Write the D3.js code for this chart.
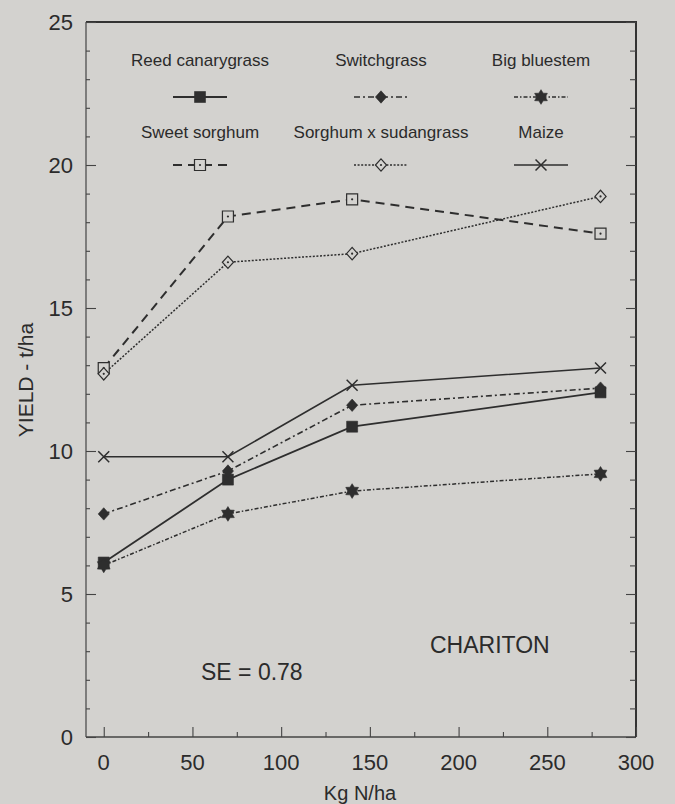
<!DOCTYPE html>
<html>
<head>
<meta charset="utf-8">
<script src="https://cdn.jsdelivr.net/npm/d3@7/dist/d3.min.js"></script>
<style>
  html, body { margin: 0; padding: 0; background: #d3d2cf; }
  svg { display: block; }
  text { font-family: "Liberation Sans", Arial, Helvetica, sans-serif; fill: #2b2b2b; }
</style>
</head>
<body>
<script>
// Nitrogen rates (kg N/ha) at which yield was measured
const nRates = [0, 70, 140, 280];

// Dry-matter yield (t/ha) per crop
const reedCanarygrass = [6.1, 9.0, 10.85, 12.05];
const switchgrass     = [7.8, 9.3, 11.6, 12.2];
const bigBluestem     = [6.0, 7.8, 8.6, 9.2];
const sweetSorghum    = [12.9, 18.2, 18.8, 17.6];
const sorghumSudan    = [12.7, 16.6, 16.9, 18.9];
const maize           = [9.8, 9.8, 12.3, 12.9];

const cropNames = ["Reed canarygrass", "Switchgrass", "Big bluestem",
                   "Sweet sorghum", "Sorghum x sudangrass", "Maize"];

const xTickValues = [0, 50, 100, 150, 200, 250, 300];
const yTickValues = [0, 5, 10, 15, 20, 25];

const W = 675, H = 804;
const plotL = 86, plotR = 636, plotT = 22, plotB = 737;

const x = d3.scaleLinear().domain([-10, 300]).range([plotL, plotR]);
const y = d3.scaleLinear().domain([0, 25]).range([plotB, plotT]);

const ink = "#2e2e2e";
const paper = "#d3d2cf";

// six-pointed star symbol
const symbolHexStar = {
  draw(ctx, size) {
    const R = Math.sqrt(size) * 0.6, r = R * 0.6;
    for (let i = 0; i < 12; i++) {
      const a = -Math.PI / 2 + i * Math.PI / 6;
      const rr = i % 2 === 0 ? R : r;
      if (i === 0) ctx.moveTo(rr * Math.cos(a), rr * Math.sin(a));
      else ctx.lineTo(rr * Math.cos(a), rr * Math.sin(a));
    }
    ctx.closePath();
  }
};

// squat diamond, nearly as wide as it is tall
const symbolWideDiamond = {
  draw(ctx, size) {
    const h = Math.sqrt(size) * 0.62, w = h * 0.9;
    ctx.moveTo(0, -h);
    ctx.lineTo(w, 0);
    ctx.lineTo(0, h);
    ctx.lineTo(-w, 0);
    ctx.closePath();
  }
};

const crops = [
  { name: cropNames[0], values: reedCanarygrass, symbol: d3.symbolSquare, size: 121, fill: ink, dash: null, width: 1.8 },
  { name: cropNames[1], values: switchgrass, symbol: symbolWideDiamond, size: 100, fill: ink, dash: "6,3,2,3", width: 1.6 },
  { name: cropNames[2], values: bigBluestem, symbol: symbolHexStar, size: 150, fill: ink, dash: "4,2,1.5,2", width: 1.5 },
  { name: cropNames[3], values: sweetSorghum, symbol: d3.symbolSquare, size: 121, fill: "none", dot: true, dash: "9,6", width: 2 },
  { name: cropNames[4], values: sorghumSudan, symbol: symbolWideDiamond, size: 100, fill: "none", dot: true, dash: "2,1.6", width: 1.5 },
  { name: cropNames[5], values: maize, symbol: d3.symbolX, size: 80, fill: "none", dash: null, width: 1.6 }
];

const svg = d3.select("body").append("svg").attr("width", W).attr("height", H);

svg.append("rect").attr("width", W).attr("height", H).attr("fill", paper);

// frame
svg.append("line").attr("x1", plotL).attr("x2", plotL).attr("y1", plotT).attr("y2", plotB)
  .attr("stroke", "#444").attr("stroke-width", 1.2);
svg.append("line").attr("x1", plotL).attr("x2", plotR).attr("y1", plotB).attr("y2", plotB)
  .attr("stroke", "#444").attr("stroke-width", 1.4);
svg.append("line").attr("x1", plotL).attr("x2", plotR + 1).attr("y1", plotT).attr("y2", plotT)
  .attr("stroke", "#333").attr("stroke-width", 1.8);
svg.append("line").attr("x1", plotR).attr("x2", plotR).attr("y1", plotT).attr("y2", plotB)
  .attr("stroke", "#333").attr("stroke-width", 2);

// axes: ticks point into the plot
const yMinor = d3.range(0, 26, 1).filter(v => v % 5 !== 0);
const xMinor = d3.range(25, 300, 50);

const yLeft = svg.append("g").attr("transform", `translate(${plotL},0)`)
  .call(d3.axisRight(y).tickValues(yTickValues).tickSize(10).tickFormat(""));
const yLeftMinor = svg.append("g").attr("transform", `translate(${plotL},0)`)
  .call(d3.axisRight(y).tickValues(yMinor).tickSize(4).tickFormat(""));
const yRight = svg.append("g").attr("transform", `translate(${plotR},0)`)
  .call(d3.axisLeft(y).tickValues(yTickValues).tickSize(10).tickFormat(""));
const yRightMinor = svg.append("g").attr("transform", `translate(${plotR},0)`)
  .call(d3.axisLeft(y).tickValues(yMinor).tickSize(6).tickFormat(""));
const xBottom = svg.append("g").attr("transform", `translate(0,${plotB})`)
  .call(d3.axisTop(x).tickValues(xTickValues).tickSize(10).tickFormat(""));
const xBottomMinor = svg.append("g").attr("transform", `translate(0,${plotB})`)
  .call(d3.axisTop(x).tickValues(xMinor).tickSize(5).tickFormat(""));

[yLeft, yLeftMinor, yRight, yRightMinor, xBottom, xBottomMinor].forEach(g => {
  g.select(".domain").remove();
  g.selectAll(".tick line").attr("stroke", "#444").attr("stroke-width", 1.1);
});

// tick labels
svg.append("g").selectAll("text").data(yTickValues).join("text")
  .attr("x", 73).attr("y", d => y(d)).attr("dy", "0.36em")
  .attr("text-anchor", "end").attr("font-size", 22)
  .text(d => d3.format("d")(d));

svg.append("g").selectAll("text").data(xTickValues).join("text")
  .attr("x", d => x(d)).attr("y", 770)
  .attr("text-anchor", "middle").attr("font-size", 22)
  .text(d => d3.format("d")(d));

// axis titles
svg.append("text").attr("x", 360).attr("y", 800).attr("text-anchor", "middle")
  .attr("font-size", 20).text("Kg N/ha");
svg.append("text").attr("transform", "translate(33,380) rotate(-90)")
  .attr("text-anchor", "middle").attr("font-size", 21).text("YIELD - t/ha");

// series
const line = d3.line().x((d, i) => x(nRates[i])).y(d => y(d));

const seriesG = svg.append("g");
crops.forEach(c => {
  seriesG.append("path").datum(c.values).attr("d", line)
    .attr("fill", "none").attr("stroke", ink).attr("stroke-width", c.width)
    .attr("stroke-dasharray", c.dash);
});

function drawMarker(g, c, cx, cy) {
  const p = g.append("path")
    .attr("transform", `translate(${cx},${cy})`)
    .attr("d", d3.symbol(c.symbol, c.size)());
  if (c.fill === "none") {
    p.attr("fill", c.symbol === d3.symbolX ? "none" : paper)
     .attr("stroke", ink).attr("stroke-width", c.symbol === d3.symbolX ? 1.5 : 1.2);
    if (c.dot) {
      g.append("circle").attr("cx", cx).attr("cy", cy).attr("r", 1.1).attr("fill", ink);
    }
  } else {
    p.attr("fill", c.fill).attr("stroke", ink).attr("stroke-width", 0.6);
  }
}

const markG = svg.append("g");
crops.forEach(c => {
  c.values.forEach((v, i) => drawMarker(markG, c, x(nRates[i]), y(v)));
});

// legend
const legCols = [200, 381, 541];
const legRows = [{ label: 66, sample: 97 }, { label: 138, sample: 165 }];
const legG = svg.append("g");
crops.forEach((c, k) => {
  const cx = legCols[k % 3], row = legRows[Math.floor(k / 3)];
  legG.append("text").attr("x", cx).attr("y", row.label).attr("text-anchor", "middle")
    .attr("font-size", 17).text(c.name);
  legG.append("line").attr("x1", cx - 27).attr("x2", cx + 27)
    .attr("y1", row.sample).attr("y2", row.sample)
    .attr("stroke", ink).attr("stroke-width", c.width).attr("stroke-dasharray", c.dash);
  drawMarker(legG, c, cx, row.sample);
});

// annotations
svg.append("text").attr("x", 201).attr("y", 680).attr("font-size", 23).text("SE = 0.78");
svg.append("text").attr("x", 430).attr("y", 653).attr("font-size", 23).text("CHARITON");
</script>
</body>
</html>
